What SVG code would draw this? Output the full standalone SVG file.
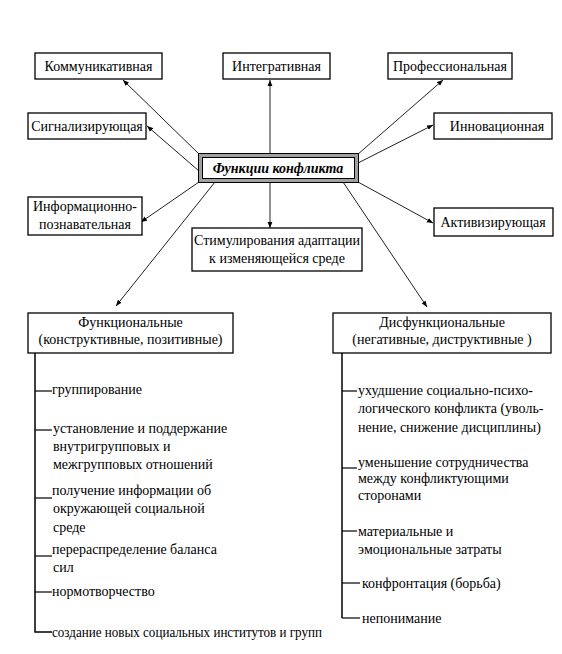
<svg xmlns="http://www.w3.org/2000/svg" width="562" height="654" viewBox="0 0 562 654">
<defs>
<marker id="ah" viewBox="0 0 10 10" refX="10" refY="5" markerWidth="6" markerHeight="6" orient="auto" markerUnits="userSpaceOnUse">
<path d="M0,1 L10,5 L0,9 Z" fill="#000"/>
</marker>
<style>
text{font-size:14px;fill:#000}
.c{text-anchor:middle}
.box{fill:#fff;stroke:#000;stroke-width:1.3}
.con{stroke:#222;stroke-width:1;fill:none;marker-end:url(#ah)}
.tree{stroke:#000;stroke-width:1.5;fill:none}
.tick{stroke:#000;stroke-width:1.2;fill:none}
.title{font-weight:bold;font-style:italic}
</style>
</defs>
<rect width="562" height="654" fill="#fff"/>
<g font-family="'Liberation Serif', 'DejaVu Serif', serif">

<g id="connectors">
<line class="con" x1="200" y1="155" x2="123" y2="80"/>
<line class="con" x1="199" y1="171" x2="147" y2="126"/>
<line class="con" x1="270" y1="155" x2="270" y2="80"/>
<line class="con" x1="357" y1="155" x2="443" y2="80"/>
<line class="con" x1="358" y1="163" x2="433" y2="125"/>
<line class="con" x1="199" y1="182" x2="141" y2="222"/>
<line class="con" x1="270" y1="182" x2="270" y2="228"/>
<line class="con" x1="358" y1="182" x2="433" y2="223"/>
<line class="con" x1="215" y1="182" x2="116" y2="306"/>
<line class="con" x1="343" y1="182" x2="427" y2="307"/>
</g>

<g id="center">
<rect x="198.5" y="153.5" width="160" height="29" fill="#a0a0a0" stroke="#000" stroke-width="1"/>
<rect x="202.5" y="157.5" width="152" height="21" fill="#fff" stroke="#000" stroke-width="1"/>
<text class="c title" x="278" y="173">Функции конфликта</text>
</g>

<g id="kommunikativnaya">
<rect class="box" x="35" y="53" width="127" height="26"/>
<text class="c" x="98.5" y="71">Коммуникативная</text>
</g>
<g id="integrativnaya">
<rect class="box" x="223" y="53" width="107" height="26"/>
<text class="c" x="276.5" y="71">Интегративная</text>
</g>
<g id="professionalnaya">
<rect class="box" x="388" y="53" width="124" height="26"/>
<text class="c" x="450" y="71">Профессиональная</text>
</g>
<g id="signaliziruyushchaya">
<rect class="box" x="28" y="113" width="118" height="26"/>
<text class="c" x="87" y="131">Сигнализирующая</text>
</g>
<g id="innovatsionnaya">
<rect class="box" x="434" y="113" width="118" height="26"/>
<text class="c" x="497" y="131">Инновационная</text>
</g>
<g id="informatsionno">
<rect class="box" x="28" y="197" width="114" height="38"/>
<text class="c" x="85" y="211">Информационно-</text>
<text class="c" x="85" y="229">познавательная</text>
</g>
<g id="stimulirovaniya">
<rect class="box" x="192" y="228" width="170" height="43"/>
<text class="c" x="277" y="245">Стимулирования адаптации</text>
<text class="c" x="277" y="263">к изменяющейся среде</text>
</g>
<g id="aktiviziruyushchaya">
<rect class="box" x="434" y="208" width="119" height="28"/>
<text class="c" x="493" y="227">Активизирующая</text>
</g>
<g id="funktsionalnye">
<rect class="box" x="28" y="313" width="205" height="40"/>
<text class="c" x="130.5" y="327">Функциональные</text>
<text class="c" x="130.5" y="344">(конструктивные, позитивные)</text>
</g>
<g id="disfunktsionalnye">
<rect class="box" x="333" y="313" width="218" height="40"/>
<text class="c" x="442" y="327">Дисфункциональные</text>
<text class="c" x="442" y="344">(негативные, диструктивные )</text>
</g>

<g id="functional-list">
<polyline class="tree" points="35,353 35,632 52,632"/>
<line class="tick" x1="35" y1="391" x2="52" y2="391"/>
<text x="52" y="394">группирование</text>
<line class="tick" x1="35" y1="430" x2="52" y2="430"/>
<text x="53" y="433">установление и поддержание</text>
<text x="53" y="451">внутригрупповых и</text>
<text x="53" y="469">межгрупповых отношений</text>
<line class="tick" x1="35" y1="498" x2="52" y2="498"/>
<text x="52" y="495">получение информации об</text>
<text x="53" y="513">окружающей социальной</text>
<text x="53" y="532">среде</text>
<line class="tick" x1="35" y1="556" x2="52" y2="556"/>
<text x="52" y="554">перераспределение баланса</text>
<text x="53" y="572">сил</text>
<line class="tick" x1="35" y1="592" x2="52" y2="592"/>
<text x="52" y="596">нормотворчество</text>
<text x="52" y="637" textLength="270" lengthAdjust="spacingAndGlyphs">создание новых социальных институтов и групп</text>
</g>

<g id="dysfunctional-list">
<line class="tree" x1="342" y1="353" x2="342" y2="618"/>
<line class="tick" x1="342" y1="391" x2="357" y2="391"/>
<text x="358" y="395">ухудшение социально-психо-</text>
<text x="358" y="413">логического конфликта (уволь-</text>
<text x="358" y="432">нение, снижение дисциплины)</text>
<line class="tick" x1="342" y1="468" x2="357" y2="468"/>
<text x="358" y="467">уменьшение сотрудничества</text>
<text x="358" y="483">между конфликтующими</text>
<text x="358" y="500">сторонами</text>
<line class="tick" x1="342" y1="531" x2="357" y2="531"/>
<text x="358" y="536">материальные и</text>
<text x="358" y="554">эмоциональные затраты</text>
<line class="tick" x1="342" y1="583" x2="360" y2="583"/>
<text x="362" y="588">конфронтация (борьба)</text>
<line class="tick" x1="342" y1="618" x2="360" y2="618"/>
<text x="362" y="623">непонимание</text>
</g>
</g>
</svg>
